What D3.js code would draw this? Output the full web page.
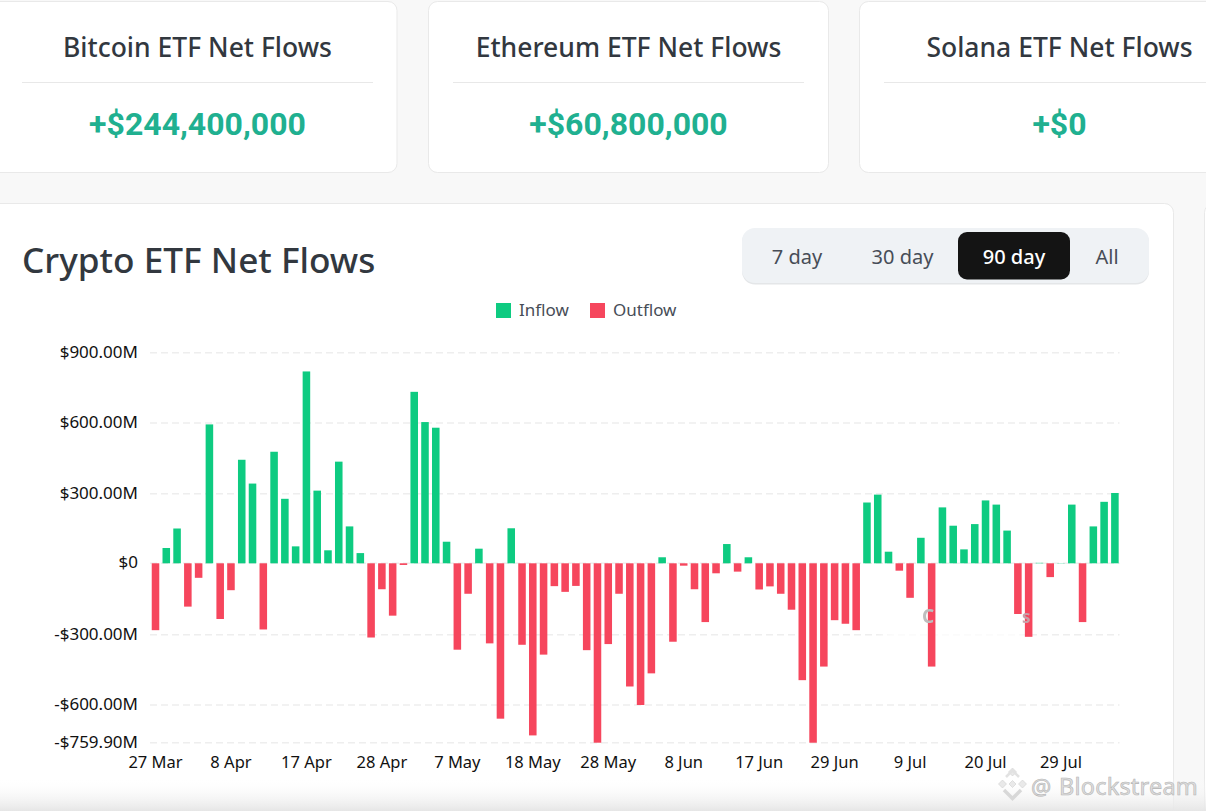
<!DOCTYPE html>
<html><head><meta charset="utf-8">
<script src="https://cdn.jsdelivr.net/npm/d3@7/dist/d3.min.js"></script>
<style>
html,body{margin:0;padding:0;background:#f8f8f8;overflow:hidden}
svg{display:block}
text{font-family:"Noto Sans",sans-serif}
</style></head><body><svg id="c" width="1206" height="811"></svg>
<script>
const days = ["27 Mar","28 Mar","31 Mar","1 Apr","2 Apr","3 Apr","4 Apr","8 Apr","9 Apr","10 Apr","11 Apr","14 Apr","15 Apr","16 Apr","17 Apr","18 Apr","21 Apr","22 Apr","23 Apr","24 Apr","25 Apr","28 Apr","29 Apr","30 Apr","1 May","2 May","5 May","6 May","7 May","8 May","9 May","12 May","13 May","14 May","15 May","18 May","19 May","20 May","21 May","22 May","23 May","27 May","28 May","29 May","30 May","2 Jun","3 Jun","4 Jun","5 Jun","8 Jun","9 Jun","10 Jun","11 Jun","12 Jun","13 Jun","16 Jun","17 Jun","18 Jun","19 Jun","20 Jun","23 Jun","24 Jun","25 Jun","29 Jun","30 Jun","1 Jul","2 Jul","3 Jul","7 Jul","8 Jul","9 Jul","10 Jul","11 Jul","14 Jul","15 Jul","16 Jul","17 Jul","20 Jul","21 Jul","22 Jul","23 Jul","24 Jul","25 Jul","28 Jul","29 Jul","30 Jul","31 Jul","1 Aug","4 Aug","5 Aug"];
const flows = [-281,66,150,-182,-61,594,-234,-113,444,343,-278,478,278,73,820,313,56,436,159,44,-312,-109,-220,-7,733,604,580,93,-364,-128,63,-337,-658,151,-343,-729,-385,-96,-120,-95,-366,-759.9,-340,-128,-521,-600,-465,26,-330,-10,-109,-247,-42,83,-35,26,-110,-97,-128,-195,-494,-759.9,-436,-239,-254,-281,262,296,50,-31,-145,110,-436,241,162,60,169,271,253,141,-213,-309,2,-58,1,253,-247,159,265,303];
const xTicks = ["27 Mar","8 Apr","17 Apr","28 Apr","7 May","18 May","28 May","8 Jun","17 Jun","29 Jun","9 Jul","20 Jul","29 Jul"];
const yTicks = [900,600,300,0,-300,-600,-759.9];
const yLabels = ["$900.00M","$600.00M","$300.00M","$0","-$300.00M","-$600.00M","-$759.90M"];
const cardTitles = ["Bitcoin ETF Net Flows","Ethereum ETF Net Flows","Solana ETF Net Flows"];
const cardValues = ["+$244,400,000","+$60,800,000","+$0"];
const ranges = ["7 day","30 day","90 day","All"];
const legendNames = ["Inflow","Outflow"];

const svg = d3.select("#c");
const GREEN="#0ecb81", RED="#f6465d", INK="#32383f", BORDER="#e9e9e9";
const defs = svg.append("defs");
const fade = defs.append("linearGradient").attr("id","fade").attr("x1",0).attr("x2",0).attr("y1",0).attr("y2",1);
fade.append("stop").attr("offset",0).attr("stop-color","#fff").attr("stop-opacity",0);
fade.append("stop").attr("offset",1).attr("stop-color","#e6e6e6").attr("stop-opacity",1);
defs.append("filter").attr("id","blur").append("feGaussianBlur").attr("stdDeviation",4);
defs.append("filter").attr("id","soft").append("feGaussianBlur").attr("stdDeviation",.5);

// cards
const cardX = [-12,428.5,859.5], cardW=[409,400,400];
cardTitles.forEach((t,i)=>{
  const g = svg.append("g");
  g.append("rect").attr("x",cardX[i]).attr("y",1.5).attr("width",cardW[i]).attr("height",171).attr("rx",9)
    .attr("fill","#fff").attr("stroke",BORDER);
  const cx = [197.5,628.5,1059.5][i];
  g.append("text").attr("x",cx).attr("y",56.5).attr("text-anchor","middle").attr("font-size",26.5).attr("font-weight",500).attr("fill",INK).text(t);
  g.append("line").attr("x1",cx-175.5).attr("x2",cx+175.5).attr("y1",82.5).attr("y2",82.5).attr("stroke","#e8e8e8");
  g.append("text").attr("x",cx).attr("y",135).attr("text-anchor","middle").attr("font-size",32).attr("font-weight",700).attr("fill","#20b090").style("font-family","Roboto").text(cardValues[i]);
});
// main card + neighbour
svg.append("rect").attr("x",-12).attr("y",203.5).attr("width",1185.5).attr("height",640).attr("rx",9).attr("fill","#fff").attr("stroke",BORDER);
svg.append("rect").attr("x",1204.5).attr("y",203.5).attr("width",40).attr("height",640).attr("rx",9).attr("fill","#fff").attr("stroke",BORDER);
svg.append("text").attr("x",22).attr("y",273).attr("font-size",35.2).attr("font-weight",500).attr("fill",INK).text("Crypto ETF Net Flows");

// range toggle
svg.append("rect").attr("x",742).attr("y",229).attr("width",407).attr("height",55.5).attr("rx",13).attr("fill","#e4e6e8");
svg.append("rect").attr("x",742).attr("y",228).attr("width",407).attr("height",55).attr("rx",13).attr("fill","#eff2f5");
svg.append("rect").attr("x",958).attr("y",232).attr("width",112).attr("height",47.5).attr("rx",9).attr("fill","#141414");
const rangeX=[797,902.5,1014,1107];
ranges.forEach((r,i)=>svg.append("text").attr("x",rangeX[i]).attr("y",264).attr("text-anchor","middle").attr("font-size",20)
  .attr("font-weight",i==2?500:400).attr("fill",i==2?"#fff":"#474d57").text(r));

// legend
const legX=[496,590], legC=[GREEN,RED];
legendNames.forEach((n,i)=>{
  svg.append("rect").attr("x",legX[i]).attr("y",303).attr("width",15).attr("height",15).attr("fill",legC[i]);
  svg.append("text").attr("x",legX[i]+23).attr("y",316).attr("font-size",17).attr("fill","#474d57").text(n);
});

// scales
const x = d3.scaleBand().domain(days).range([148.5,1121.9]).padding(0.3);
const y = d3.scaleLinear().domain([-759.9,-600,-300,0,300,600,900]).range([742.7,705,634.7,563.3,493.7,423,352.7]);

// grid
svg.append("g").selectAll("line").data(yTicks).join("line")
  .attr("x1",150).attr("x2",1119.5).attr("y1",d=>y(d)).attr("y2",d=>y(d))
  .attr("stroke","#eeeeee").attr("stroke-width",1.5).attr("stroke-dasharray","7 4");

// smudged-out mark behind the bars
svg.append("rect").attr("x",880).attr("y",598).attr("width",150).attr("height",40).attr("rx",14).attr("fill","#fff").attr("filter","url(#blur)");

// bars
svg.append("g").selectAll("rect").data(flows).join("rect")
  .attr("x",(d,i)=>x(days[i])).attr("width",x.bandwidth())
  .attr("y",d=>Math.min(y(d),y(0))).attr("height",d=>Math.abs(y(d)-y(0)))
  .attr("fill",d=>d>=0?GREEN:RED);

// remnants of the smudged mark
svg.append("text").attr("x",922).attr("y",623).attr("font-size",19).attr("font-weight",700).attr("fill","#bdbdbd").attr("filter","url(#soft)").text("C");
svg.append("text").attr("x",1022).attr("y",623).attr("font-size",17).attr("font-weight",700).attr("fill","#c9a0a8").attr("filter","url(#soft)").text("s");

// axes
const ya = d3.axisLeft(y).tickValues(yTicks).tickFormat(d=>yLabels[yTicks.indexOf(d)]).tickSize(0).tickPadding(12);
const gy = svg.append("g").attr("transform","translate(150,-1)").call(ya);
gy.select(".domain").remove();
gy.selectAll("text").attr("font-size",17).attr("fill","#111").style("font-family","'Noto Sans',sans-serif");
const xa = d3.axisBottom(x).tickValues(xTicks).tickSize(0).tickPadding(0);
const gx = svg.append("g").attr("transform","translate(0,756.5)").call(xa);
gx.select(".domain").remove();
gx.selectAll("text").attr("font-size",16.5).attr("fill","#111").style("font-family","'Noto Sans',sans-serif");

// bottom fade + watermark
svg.append("rect").attr("x",0).attr("y",778).attr("width",1206).attr("height",33).attr("fill","url(#fade)");
const wm = svg.append("g").attr("fill","#dedede").attr("stroke","#b4b4b4").attr("stroke-width",.6);
wm.append("text").attr("x",1031).attr("y",795).attr("font-size",22.5).text("@");
wm.append("text").attr("x",1059).attr("y",795).attr("font-size",23.5).attr("letter-spacing",.2).text("Blockstream");
const diamonds = [[1012.5,772,4],[1002.5,784,4],[1022.5,784,4],[1012.5,784,3.5]];
wm.selectAll("path.d").data(diamonds).join("path").attr("class","d")
  .attr("d",d=>`M${d[0]} ${d[1]-d[2]}L${d[0]+d[2]} ${d[1]}L${d[0]} ${d[1]+d[2]}L${d[0]-d[2]} ${d[1]}Z`)
  .attr("fill","#e9e9e9").attr("stroke","#cfcfcf");
wm.append("path").attr("d","M1004 790L1012.5 798.5L1021 790").attr("fill","none").attr("stroke","#d8d8d8").attr("stroke-width",3.5);
wm.append("path").attr("d","M1006 777L1012.5 770.5L1019 777").attr("fill","none").attr("stroke","#e2e2e2").attr("stroke-width",2.5);
</script></body></html>
